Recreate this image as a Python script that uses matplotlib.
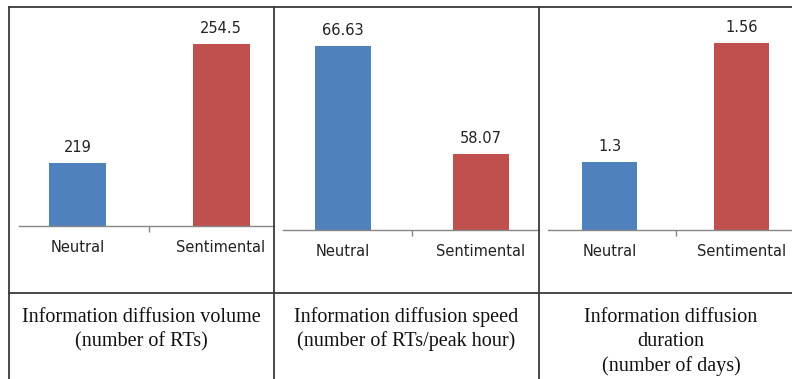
import matplotlib
matplotlib.use('Agg')
import matplotlib.pyplot as plt
from matplotlib.lines import Line2D

# ---------------- data ----------------
categories = ['Neutral', 'Sentimental']
volume = [219, 254.5]
speed = [66.63, 58.07]
duration = [1.3, 1.56]
value_labels = [['219', '254.5'], ['66.63', '58.07'], ['1.3', '1.56']]
axis_min = [200, 52, 1.15]
captions = [
    ['Information diffusion volume', '(number of RTs)'],
    ['Information diffusion speed', '(number of RTs/peak hour)'],
    ['Information diffusion', 'duration', '(number of days)'],
]
series = [volume, speed, duration]
colors = ['#4F81BD', '#C0504D']

# ---------------- layout (pixels) ----------------
W, H = 792, 379
# left, right, axis-line y, top y of tallest bar, centre of first bar, bar spacing, bar width
panels = [
    (19, 274, 226, 44, 77.5, 143.5, 57),
    (283, 539, 230, 46, 342.5, 138, 56),
    (548, 792, 230, 43, 609.5, 132, 55),
]
caption_x = [141.5, 406.5, 671]
caption_y0 = 317
caption_dy = 24.5

fig = plt.figure(figsize=(W / 100, H / 100), dpi=100)
fig.patch.set_facecolor('white')

def fx(x):
    return x / W

def fy(y):
    return 1 - y / H

text_color = '#222222'
axis_color = '#868686'

for k, (L, R, ay, ty, c0, sp, bw) in enumerate(panels):
    ax = fig.add_axes([fx(L), fy(ay), (R - L) / W, (ay - ty) / H])
    vals = series[k]
    ax.bar(range(len(categories)), vals, width=bw / sp, color=colors, zorder=2)
    ax.set_xlim((L - c0) / sp, (R - c0) / sp)
    ax.set_ylim(axis_min[k], max(vals))
    for s in ['top', 'left', 'right']:
        ax.spines[s].set_visible(False)
    ax.spines['bottom'].set_color(axis_color)
    ax.spines['bottom'].set_linewidth(1.0)
    ax.spines['bottom'].set_zorder(3)
    ax.set_yticks([])
    ax.set_xticks(range(len(categories)))
    ax.set_xticklabels(categories, fontsize=10.5, color=text_color,
                       family='DejaVu Sans')
    ax.tick_params(axis='x', length=0, pad=10)
    ax.set_xticks([0.5], minor=True)
    ax.tick_params(axis='x', which='minor', length=4, width=1,
                   color=axis_color, direction='out')
    ax.patch.set_alpha(0)
    for i, v in enumerate(vals):
        ax.annotate(value_labels[k][i], (i, v), xytext=(0, 11),
                    textcoords='offset points', ha='center', va='center',
                    fontsize=10.5, color=text_color, family='DejaVu Sans',
                    annotation_clip=False)

# ---------------- table lines ----------------
line_color = '#3a3a3a'
lw = 1.3
def hline(y, x0, x1):
    fig.add_artist(Line2D([fx(x0), fx(x1)], [fy(y), fy(y)],
                          transform=fig.transFigure, color=line_color, lw=lw))
def vline(x, y0, y1):
    fig.add_artist(Line2D([fx(x), fx(x)], [fy(y0), fy(y1)],
                          transform=fig.transFigure, color=line_color, lw=lw))

hline(7, 9, 792)
hline(293, 9, 792)
for x in [9, 274, 539]:
    vline(x, 7, 379)

# ---------------- captions ----------------
for k, lines in enumerate(captions):
    for j, line in enumerate(lines):
        fig.text(fx(caption_x[k]), fy(caption_y0 + j * caption_dy), line,
                 ha='center', va='center', fontsize=14.5,
                 family='Liberation Serif', color='#111111')

fig.savefig('out.png', dpi=100)
